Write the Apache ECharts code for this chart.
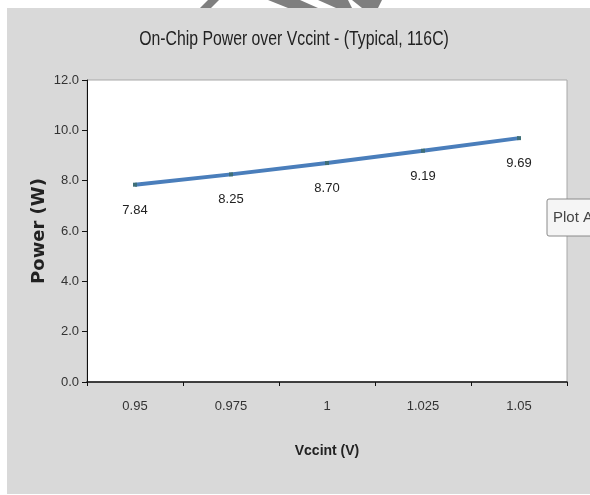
<!DOCTYPE html>
<html>
<head>
<meta charset="utf-8">
<script src="https://cdn.jsdelivr.net/npm/echarts@6/dist/echarts.min.js"></script>
<style>
  html, body { margin: 0; padding: 0; background: #ffffff; }
  #chart { width: 590px; height: 495px; }
</style>
</head>
<body>
<div id="chart"></div>
<script>
// Supply voltage steps and measured on-chip power
const vccint = ['0.95', '0.975', '1', '1.025', '1.05'];
const powerW = [7.84, 8.25, 8.70, 9.19, 9.69];
const yTicks = { min: 0, max: 12, step: 2 };

const FONT = '"Liberation Sans", Arial, sans-serif';

const chart = echarts.init(document.getElementById('chart'), null, { renderer: 'canvas' });

chart.setOption({
  backgroundColor: '#ffffff',
  animation: false,
  graphic: [
    { type: 'rect', z: -10, shape: { x: 7, y: 8, width: 583, height: 486 }, style: { fill: '#d9d9d9' } },
    // watermark strokes along the top edge
    { type: 'polygon', z: -5, shape: { points: [[200, 8], [211, 8], [219, 0], [208, 0]] }, style: { fill: '#7f7f7f' } },
    { type: 'polygon', z: -5, shape: { points: [[268, 0], [300, 0], [318, 8], [288, 8]] }, style: { fill: '#7f7f7f' } },
    { type: 'polygon', z: -5, shape: { points: [[318, 0], [348, 0], [352, 8], [336, 8]] }, style: { fill: '#7f7f7f' } },
    { type: 'polygon', z: -5, shape: { points: [[352, 0], [382, 0], [378, 8], [362, 8]] }, style: { fill: '#7f7f7f' } },
    // condensed chart title
    {
      type: 'text', x: 294, y: 39, scaleX: 0.79, originX: 0, z: 50,
      style: {
        text: 'On-Chip Power over Vccint - (Typical, 116C)',
        fontFamily: FONT, fontSize: 20, fill: '#222',
        align: 'center', verticalAlign: 'middle'
      }
    },
    // hover hint box at the right edge
    {
      type: 'group', z: 100,
      children: [
        { type: 'rect', shape: { x: 547, y: 199, width: 70, height: 37, r: 2 },
          style: { fill: '#f5f5f5', stroke: '#8a8a8a', lineWidth: 1 } },
        { type: 'text', x: 553, y: 218,
          style: { text: 'Plot Area', fontFamily: FONT, fontSize: 15, fill: '#444', verticalAlign: 'middle' } }
      ]
    }
  ],
  grid: {
    left: 87, right: 23, top: 80, bottom: 113,
    show: true, backgroundColor: '#ffffff', borderColor: '#a8a8a8', borderWidth: 1
  },
  xAxis: {
    type: 'category',
    data: vccint,
    boundaryGap: true,
    name: 'Vccint (V)',
    nameLocation: 'middle',
    nameGap: 62,
    nameMoveOverlap: false,
    nameTextStyle: { fontFamily: FONT, fontSize: 14, fontWeight: 'bold', color: '#222' },
    axisLine: { show: true, lineStyle: { color: '#111', width: 1.5 } },
    axisTick: { show: true, length: 4, lineStyle: { color: '#111' } },
    axisLabel: { margin: 18, fontFamily: FONT, fontSize: 13, color: '#333' },
    splitLine: { show: false }
  },
  yAxis: {
    type: 'value',
    min: yTicks.min,
    max: yTicks.max,
    interval: yTicks.step,
    name: 'Power (W)',
    nameLocation: 'middle',
    nameRotate: 90,
    nameGap: 39,
    nameMoveOverlap: false,
    nameTextStyle: { fontFamily: '"DejaVu Sans", Verdana, sans-serif', fontSize: 18, fontWeight: 'bold', color: '#222' },
    axisLine: { show: true, lineStyle: { color: '#111', width: 1 } },
    axisTick: { show: true, length: 5, lineStyle: { color: '#111' } },
    axisLabel: {
      margin: 8, fontFamily: FONT, fontSize: 13, color: '#333',
      formatter: v => v.toFixed(1)
    },
    splitLine: { show: false }
  },
  series: [{
    type: 'line',
    data: powerW,
    symbol: 'rect',
    symbolSize: 4,
    lineStyle: { color: '#4a7ebb', width: 4 },
    itemStyle: { color: '#3f6f78' },
    label: {
      show: true,
      position: 'bottom',
      distance: 17,
      fontFamily: FONT,
      fontSize: 13,
      color: '#222',
      formatter: p => p.value.toFixed(2)
    }
  }]
});
</script>
</body>
</html>
